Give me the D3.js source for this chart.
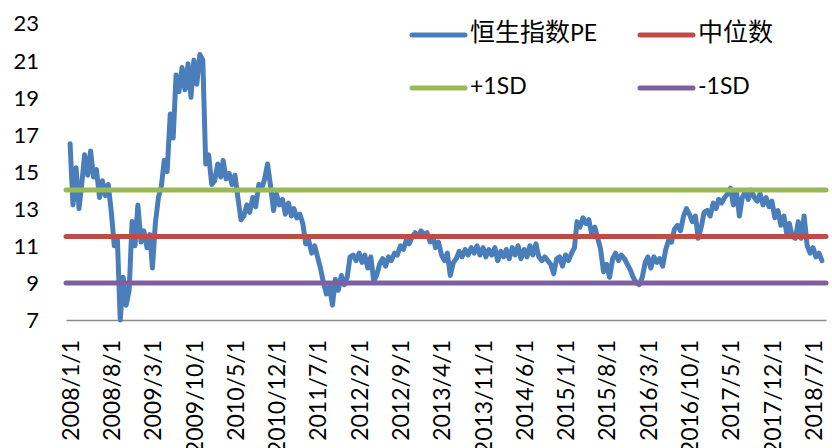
<!DOCTYPE html>
<html>
<head>
<meta charset="utf-8">
<script src="https://cdn.jsdelivr.net/npm/d3@7"></script>
<style>
  body { margin: 0; background: #fff; }
  svg { display: block; }
</style>
</head>
<body>
<script>
// PE values, two per month (1st and 16th)
const pe2008 = [16.5, 13.2, 15.2, 13.0, 14.3, 15.9, 14.8, 16.1, 14.7, 15.1, 13.6, 14.5, 13.7, 14.3, 12.8, 11.0, 11.4, 7.0, 9.3, 7.8, 8.6, 12.3, 11.0, 13.2];
const pe2009 = [11.2, 11.8, 10.9, 11.6, 9.8, 12.2, 13.6, 14.2, 15.6, 15.0, 18.1, 16.8, 20.2, 19.3, 20.6, 19.4, 20.8, 19.0, 21.0, 19.7, 21.3, 21.0, 15.4, 15.9];
const pe2010 = [14.3, 14.5, 15.4, 14.7, 15.6, 14.6, 14.9, 14.3, 14.8, 13.6, 12.4, 12.6, 13.2, 12.8, 13.6, 13.1, 14.3, 14.1, 14.6, 15.4, 14.2, 12.9, 13.8, 13.2];
const pe2011 = [13.5, 12.7, 13.3, 12.6, 13.0, 12.5, 12.7, 12.2, 11.1, 11.3, 10.6, 11.0, 10.4, 9.8, 9.0, 8.4, 8.8, 7.8, 9.2, 8.6, 9.4, 8.9, 9.3, 10.4];
const pe2012 = [10.5, 10.2, 10.6, 10.1, 10.5, 9.8, 10.4, 9.1, 9.4, 10.0, 10.3, 9.9, 10.4, 10.2, 10.6, 10.5, 11.0, 10.8, 11.3, 11.1, 11.5, 11.7, 11.5, 11.8];
const pe2013 = [11.6, 11.7, 11.2, 11.5, 10.9, 11.2, 10.5, 10.2, 10.6, 9.4, 10.1, 10.3, 10.7, 10.4, 10.8, 10.5, 10.9, 10.6, 11.0, 10.5, 10.9, 10.4, 10.8, 10.5];
const pe2014 = [10.9, 10.2, 10.7, 10.4, 10.8, 10.3, 10.9, 10.5, 11.0, 10.3, 10.8, 10.4, 11.0, 10.5, 11.1, 10.4, 10.2, 10.4, 10.2, 10.0, 9.5, 10.3, 10.4, 9.9];
const pe2015 = [10.5, 10.2, 10.6, 10.9, 12.3, 12.0, 12.5, 12.2, 12.4, 11.6, 12.0, 11.4, 10.8, 9.6, 10.0, 9.3, 10.3, 10.6, 10.2, 10.5, 10.3, 10.0, 9.7, 9.3];
const pe2016 = [9.0, 8.9, 9.3, 10.1, 10.4, 9.8, 10.4, 10.1, 10.3, 9.9, 10.8, 11.3, 11.2, 11.9, 12.1, 11.8, 12.6, 13.0, 12.7, 12.3, 12.6, 11.4, 12.0, 12.8];
const pe2017 = [12.9, 12.6, 13.3, 13.0, 13.5, 13.3, 13.6, 13.8, 14.1, 13.2, 13.9, 12.6, 13.6, 13.9, 13.5, 14.0, 13.6, 13.4, 13.8, 13.2, 13.6, 13.1, 13.4, 12.5];
const pe2018 = [12.9, 12.1, 12.6, 11.6, 12.2, 11.5, 11.4, 12.3, 11.4, 12.6, 11.0, 10.6, 10.9, 10.4, 10.6, 10.2];

const median = 11.5;
const plusSD = 14.0;
const minusSD = 9.0;

const yTicks = [7, 9, 11, 13, 15, 17, 19, 21, 23];
const xTickLabels = ["2008/1/1", "2008/8/1", "2009/3/1", "2009/10/1", "2010/5/1", "2010/12/1",
  "2011/7/1", "2012/2/1", "2012/9/1", "2013/4/1", "2013/11/1", "2014/6/1", "2015/1/1",
  "2015/8/1", "2016/3/1", "2016/10/1", "2017/5/1", "2017/12/1", "2018/7/1"];

const seriesNames = ["恒生指数PE", "中位数", "+1SD", "-1SD"];
const colors = ["#4a7ebb", "#be4b48", "#98b954", "#7d60a0"];

// build the dated series
const years = [pe2008, pe2009, pe2010, pe2011, pe2012, pe2013, pe2014, pe2015, pe2016, pe2017, pe2018];
let peData = [];
years.forEach(function(arr, yi) {
  arr.forEach(function(v, i) {
    peData.push({ date: new Date(2008 + yi, Math.floor(i / 2), i % 2 ? 16 : 1), value: v });
  });
});

const width = 832, height = 448;
const plotLeft = 66, plotRight = 826, plotBottom = 320, plotTop = 23;

const svg = d3.select("body").append("svg")
  .attr("width", width)
  .attr("height", height);

const x = d3.scaleTime()
  .domain([new Date(2007, 11, 11), new Date(2018, 8, 6)])
  .range([plotLeft, plotRight]);
const y = d3.scaleLinear()
  .domain([7, 23])
  .range([plotBottom, plotTop]);

const tickDates = xTickLabels.map(function(s) {
  const p = s.split("/");
  return new Date(+p[0], +p[1] - 1, +p[2]);
});

// y axis labels
const yAxis = svg.append("g")
  .attr("transform", "translate(" + plotLeft + ",0)")
  .call(d3.axisLeft(y).tickValues(yTicks).tickSize(0).tickPadding(27));
yAxis.select(".domain").remove();
yAxis.selectAll("text")
  .attr("font-family", "Lato, 'Liberation Sans', sans-serif")
  .attr("font-size", 22)
  .attr("fill", "#000")
  .attr("dy", "0.36em");

// x axis
const xAxis = svg.append("g")
  .attr("transform", "translate(0," + plotBottom + ")")
  .call(d3.axisBottom(x).tickValues(tickDates).tickSize(0)
    .tickFormat(function(d, i) { return xTickLabels[i]; }));
xAxis.select(".domain")
  .attr("stroke", "#8c8c8c")
  .attr("stroke-width", 1.5);
xAxis.selectAll("text")
  .attr("font-family", "Lato, 'Liberation Sans', sans-serif")
  .attr("font-size", 23)
  .attr("fill", "#000")
  .attr("transform", "rotate(-90)")
  .attr("text-anchor", "end")
  .attr("x", -20)
  .attr("y", 0)
  .attr("dy", "0.36em");

// PE line
const line = d3.line()
  .x(function(d) { return x(d.date); })
  .y(function(d) { return y(d.value); });

svg.append("path")
  .datum(peData)
  .attr("fill", "none")
  .attr("stroke", colors[0])
  .attr("stroke-width", 5)
  .attr("stroke-linejoin", "round")
  .attr("stroke-linecap", "round")
  .attr("d", line);

// reference lines
const refs = [median, plusSD, minusSD];
refs.forEach(function(v, i) {
  svg.append("line")
    .attr("x1", x.range()[0])
    .attr("x2", x.range()[1])
    .attr("y1", y(v))
    .attr("y2", y(v))
    .attr("stroke", colors[i + 1])
    .attr("stroke-width", 5)
    .attr("stroke-linecap", "round");
});

// legend
const legendPos = [[412, 35], [640, 35], [412, 88], [640, 88]];
seriesNames.forEach(function(name, si) {
  const p = legendPos[si];
  const g = svg.append("g").attr("transform", "translate(" + p[0] + "," + p[1] + ")");
  g.append("line")
    .attr("x1", 0).attr("x2", 53)
    .attr("y1", 0).attr("y2", 0)
    .attr("stroke", colors[si])
    .attr("stroke-width", 5)
    .attr("stroke-linecap", "round");
  const t = g.append("text")
    .attr("x", 58)
    .attr("dy", "0.36em")
    .attr("fill", "#000");
  // CJK chars a bit larger than the latin ones
  const runs = name.match(/[\u4e00-\u9fff]+|[^\u4e00-\u9fff]+/g);
  runs.forEach(function(r) {
    const cjk = /[\u4e00-\u9fff]/.test(r);
    t.append("tspan")
      .attr("font-family", cjk ? "'Noto Sans CJK SC', sans-serif" : "Lato, sans-serif")
      .attr("font-size", cjk ? 25 : 23)
      .text(r);
  });
});
</script>
</body>
</html>
